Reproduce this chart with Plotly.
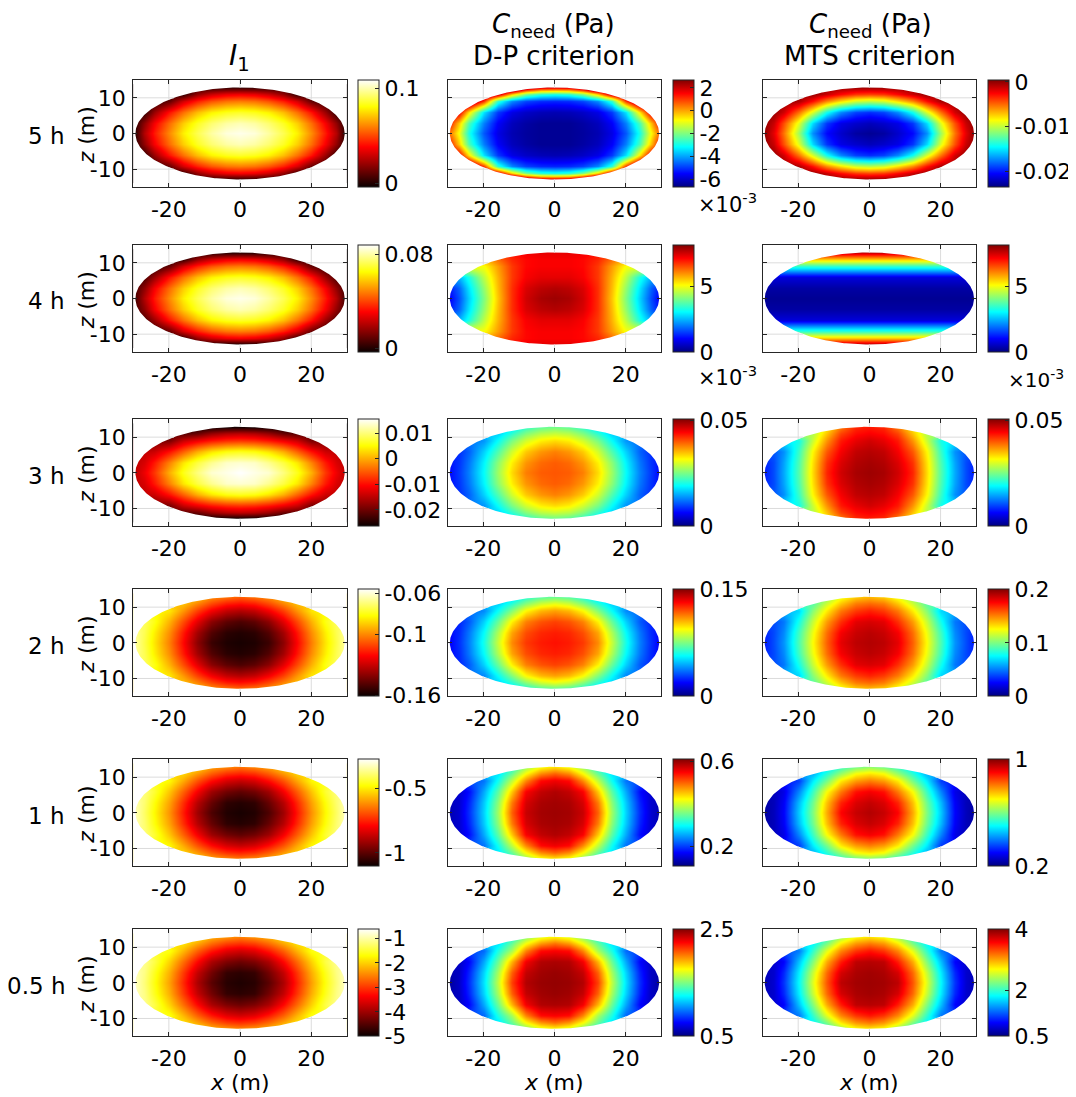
import numpy as np
import plotly.graph_objects as go

W, H = 1076, 1097      # browser window
OFF = 8                # default body margin of the html page
FW, FH = W - OFF, H - OFF
FONT = "DejaVu Sans"

# sample points on a quarter of the ellipse (x >= 0, z >= 0), in metres
x_half = [0, 4, 8, 12, 16, 20, 24, 27, 29.4]
z_half = [0, 3, 6, 9, 11, 12.9]

row_labels = ["5 h", "4 h", "3 h", "2 h", "1 h", "0.5 h"]

# I1, rows follow z_half, columns follow x_half
i1_5h = [[0.1063, 0.1046, 0.0984, 0.0894, 0.0782, 0.0613, 0.0422, 0.0253, 0.0028],
         [0.1006, 0.0984, 0.0928, 0.0843, 0.0725, 0.0562, 0.0371, 0.0191, 0.0028],
         [0.0849, 0.0832, 0.0787, 0.0697, 0.0568, 0.0411, 0.0208, 0.0028, 0.0028],
         [0.0590, 0.0574, 0.0523, 0.0433, 0.0309, 0.0118, 0.0028, 0.0028, 0.0028],
         [0.0366, 0.0349, 0.0293, 0.0197, 0.0028, 0.0028, 0.0028, 0.0028, 0.0028],
         [0.0028, 0.0028, 0.0028, 0.0028, 0.0028, 0.0028, 0.0028, 0.0028, 0.0028]]
i1_4h = [[0.0861, 0.0847, 0.0797, 0.0725, 0.0634, 0.0498, 0.0343, 0.0207, 0.0062],
         [0.0815, 0.0797, 0.0752, 0.0684, 0.0588, 0.0457, 0.0302, 0.0157, 0.0062],
         [0.0688, 0.0675, 0.0638, 0.0566, 0.0461, 0.0334, 0.0171, 0.0062, 0.0062],
         [0.0479, 0.0466, 0.0425, 0.0352, 0.0252, 0.0098, 0.0025, 0.0025, 0.0025],
         [0.0298, 0.0284, 0.0239, 0.0162, 0.0025, 0.0025, 0.0025, 0.0025, 0.0025],
         [0.0000, 0.0000, 0.0000, 0.0000, 0.0000, 0.0000, 0.0000, 0.0000, 0.0000]]
i1_3h = [[0.0154, 0.0144, 0.0135, 0.0101, 0.0060, 0.0001, -0.0074, -0.0117, -0.0147],
         [0.0135, 0.0131, 0.0108, 0.0076, 0.0035, -0.0027, -0.0093, -0.0132, -0.0147],
         [0.0060, 0.0054, 0.0034, 0.0000, -0.0048, -0.0098, -0.0140, -0.0147, -0.0147],
         [-0.0076, -0.0081, -0.0095, -0.0117, -0.0142, -0.0193, -0.0193, -0.0193, -0.0193],
         [-0.0149, -0.0155, -0.0173, -0.0203, -0.0214, -0.0214, -0.0214, -0.0214, -0.0214],
         [-0.0264, -0.0264, -0.0264, -0.0264, -0.0264, -0.0264, -0.0264, -0.0264, -0.0264]]
i1_2h = [[-0.1589, -0.1579, -0.1535, -0.1402, -0.1211, -0.1022, -0.0860, -0.0751, -0.0665],
         [-0.1573, -0.1558, -0.1495, -0.1364, -0.1182, -0.0998, -0.0845, -0.0739, -0.0676],
         [-0.1505, -0.1476, -0.1403, -0.1261, -0.1102, -0.0942, -0.0802, -0.0728, -0.0728],
         [-0.1338, -0.1310, -0.1231, -0.1119, -0.0984, -0.0858, -0.0823, -0.0823, -0.0823],
         [-0.1196, -0.1173, -0.1106, -0.1010, -0.0917, -0.0917, -0.0917, -0.0917, -0.0917],
         [-0.1064, -0.1032, -0.0990, -0.0907, -0.0917, -0.0917, -0.0917, -0.0917, -0.0917]]
i1_1h = [[-1.088, -1.076, -1.021, -0.915, -0.763, -0.613, -0.484, -0.398, -0.329],
         [-1.072, -1.059, -0.988, -0.885, -0.740, -0.594, -0.472, -0.388, -0.338],
         [-0.997, -0.973, -0.916, -0.803, -0.676, -0.550, -0.438, -0.379, -0.379],
         [-0.864, -0.841, -0.779, -0.690, -0.583, -0.483, -0.454, -0.454, -0.454],
         [-0.751, -0.733, -0.680, -0.604, -0.530, -0.530, -0.530, -0.530, -0.530],
         [-0.646, -0.621, -0.588, -0.521, -0.530, -0.530, -0.530, -0.530, -0.530]]
i1_05h = [[-4.869, -4.803, -4.471, -3.916, -3.121, -2.334, -1.661, -1.207, -0.892],
          [-4.782, -4.716, -4.301, -3.759, -2.999, -2.234, -1.596, -1.154, -0.936],
          [-4.345, -4.222, -3.921, -3.331, -2.666, -2.002, -1.417, -1.111, -1.111],
          [-3.650, -3.532, -3.204, -2.736, -2.177, -1.653, -1.504, -1.504, -1.504],
          [-3.060, -2.964, -2.684, -2.286, -1.897, -1.897, -1.897, -1.897, -1.897],
          [-2.509, -2.378, -2.203, -1.854, -1.897, -1.897, -1.897, -1.897, -1.897]]

# C_need, D-P criterion (Pa); 5 h and 4 h in units of 1e-3 Pa as on their colorbars
dp_5h = [[-6.51, -6.51, -6.42, -6.23, -5.76, -4.73, -2.94, -0.87, 0.44],
         [-6.51, -6.51, -6.37, -6.14, -5.57, -4.35, -2.47, -0.31, 1.29],
         [-6.23, -6.18, -6.04, -5.76, -5.01, -3.41, -0.59, 1.76, 1.76],
         [-5.20, -5.15, -4.91, -4.26, -2.75, 1.01, 3.17, 3.17, 3.17],
         [-2.94, -2.75, -2.00, -0.31, 2.14, 3.17, 3.17, 3.17, 3.17],
         [1.95, 2.04, 3.08, 4.77, 3.64, 3.64, 3.64, 3.64, 3.64]]
dp_4h = [[7.92, 7.83, 7.51, 6.77, 5.55, 4.08, 2.69, 1.63, 0.98],
         [7.75, 7.67, 7.43, 6.77, 5.63, 4.24, 2.86, 1.80, 1.22],
         [7.34, 7.34, 7.18, 6.69, 5.71, 4.57, 3.26, 2.45, 2.45],
         [7.18, 7.18, 7.10, 6.69, 5.88, 5.06, 5.06, 5.06, 5.06],
         [7.18, 7.18, 7.10, 6.85, 6.28, 5.71, 5.71, 5.71, 5.71],
         [7.34, 7.34, 7.26, 7.02, 6.36, 5.71, 5.71, 5.71, 5.71]]
dp_3h = [[0.0400, 0.0397, 0.0380, 0.0334, 0.0268, 0.0192, 0.0127, 0.0091, 0.0066],
         [0.0397, 0.0390, 0.0368, 0.0323, 0.0259, 0.0186, 0.0122, 0.0088, 0.0071],
         [0.0379, 0.0368, 0.0342, 0.0294, 0.0229, 0.0168, 0.0111, 0.0086, 0.0086],
         [0.0333, 0.0323, 0.0294, 0.0250, 0.0192, 0.0137, 0.0121, 0.0121, 0.0121],
         [0.0289, 0.0281, 0.0254, 0.0212, 0.0167, 0.0167, 0.0167, 0.0167, 0.0167],
         [0.0245, 0.0236, 0.0212, 0.0174, 0.0167, 0.0167, 0.0167, 0.0167, 0.0167]]
dp_2h = [[0.1290, 0.1275, 0.1230, 0.1110, 0.0858, 0.0594, 0.0375, 0.0255, 0.0180],
         [0.1272, 0.1256, 0.1199, 0.1070, 0.0818, 0.0566, 0.0362, 0.0245, 0.0195],
         [0.1218, 0.1191, 0.1122, 0.0956, 0.0714, 0.0498, 0.0318, 0.0240, 0.0240],
         [0.1074, 0.1040, 0.0942, 0.0755, 0.0569, 0.0387, 0.0353, 0.0353, 0.0353],
         [0.0905, 0.0866, 0.0761, 0.0621, 0.0495, 0.0495, 0.0495, 0.0495, 0.0495],
         [0.0714, 0.0686, 0.0609, 0.0494, 0.0495, 0.0495, 0.0495, 0.0495, 0.0495]]
dp_1h = [[0.596, 0.593, 0.575, 0.501, 0.375, 0.276, 0.192, 0.148, 0.133],
         [0.594, 0.590, 0.568, 0.487, 0.365, 0.271, 0.187, 0.147, 0.138],
         [0.587, 0.578, 0.550, 0.449, 0.341, 0.255, 0.175, 0.148, 0.148],
         [0.555, 0.544, 0.480, 0.390, 0.302, 0.227, 0.209, 0.209, 0.209],
         [0.500, 0.480, 0.423, 0.347, 0.284, 0.284, 0.284, 0.284, 0.284],
         [0.434, 0.417, 0.369, 0.311, 0.284, 0.284, 0.284, 0.284, 0.284]]
dp_05h = [[2.460, 2.450, 2.400, 2.126, 1.626, 1.200, 0.834, 0.640, 0.560],
          [2.452, 2.434, 2.364, 2.062, 1.574, 1.170, 0.812, 0.632, 0.600],
          [2.414, 2.400, 2.270, 1.894, 1.456, 1.082, 0.752, 0.640, 0.640],
          [2.254, 2.228, 1.986, 1.574, 1.300, 0.952, 0.880, 0.880, 0.880],
          [2.034, 1.956, 1.746, 1.450, 1.200, 1.200, 1.200, 1.200, 1.200],
          [1.758, 1.694, 1.508, 1.284, 1.200, 1.200, 1.200, 1.200, 1.200]]

# C_need, MTS criterion (Pa); 4 h in units of 1e-3 Pa
mts_5h = [[-0.0229, -0.0226, -0.0216, -0.0203, -0.0171, -0.0108, -0.0053, -0.0020, -0.0001],
          [-0.0220, -0.0216, -0.0210, -0.0192, -0.0153, -0.0092, -0.0044, -0.0013, -0.0001],
          [-0.0194, -0.0189, -0.0172, -0.0141, -0.0094, -0.0052, -0.0015, -0.0001, -0.0001],
          [-0.0101, -0.0096, -0.0079, -0.0058, -0.0029, -0.0006, -0.0001, -0.0001, -0.0001],
          [-0.0041, -0.0038, -0.0027, -0.0013, -0.0001, -0.0001, -0.0001, -0.0001, -0.0001],
          [-0.0001, -0.0001, -0.0001, -0.0001, -0.0001, -0.0001, -0.0001, -0.0001, -0.0001]]
mts_4h = [[0.16, 0.16, 0.16, 0.16, 0.16, 0.16, 0.16, 0.16, 0.16],
          [0.29, 0.29, 0.29, 0.29, 0.29, 0.29, 0.29, 0.29, 0.29],
          [0.74, 0.74, 0.74, 0.74, 0.74, 0.74, 0.74, 0.74, 0.74],
          [3.44, 3.44, 3.44, 3.44, 3.44, 3.44, 3.44, 3.44, 3.44],
          [5.58, 5.58, 5.58, 5.58, 5.58, 5.58, 5.58, 5.58, 5.58],
          [7.79, 7.79, 7.79, 7.79, 7.79, 7.79, 7.79, 7.79, 7.79]]
mts_3h = [[0.0491, 0.0486, 0.0466, 0.0425, 0.0334, 0.0232, 0.0148, 0.0101, 0.0076],
          [0.0487, 0.0481, 0.0460, 0.0418, 0.0330, 0.0228, 0.0145, 0.0100, 0.0081],
          [0.0479, 0.0473, 0.0447, 0.0399, 0.0319, 0.0218, 0.0135, 0.0106, 0.0106],
          [0.0465, 0.0454, 0.0431, 0.0369, 0.0290, 0.0199, 0.0177, 0.0177, 0.0177],
          [0.0445, 0.0437, 0.0410, 0.0345, 0.0278, 0.0278, 0.0278, 0.0278, 0.0278],
          [0.0430, 0.0423, 0.0380, 0.0322, 0.0278, 0.0278, 0.0278, 0.0278, 0.0278]]
mts_2h = [[0.1900, 0.1880, 0.1800, 0.1562, 0.1250, 0.0900, 0.0542, 0.0400, 0.0300],
          [0.1884, 0.1856, 0.1766, 0.1534, 0.1220, 0.0874, 0.0520, 0.0392, 0.0320],
          [0.1826, 0.1802, 0.1660, 0.1442, 0.1140, 0.0788, 0.0484, 0.0400, 0.0400],
          [0.1684, 0.1634, 0.1510, 0.1282, 0.1014, 0.0672, 0.0600, 0.0600, 0.0600],
          [0.1544, 0.1506, 0.1360, 0.1152, 0.0920, 0.0920, 0.0920, 0.0920, 0.0920],
          [0.1382, 0.1338, 0.1210, 0.1020, 0.0920, 0.0920, 0.0920, 0.0920, 0.0920]]
mts_1h = [[0.960, 0.944, 0.900, 0.766, 0.600, 0.460, 0.300, 0.248, 0.224],
          [0.946, 0.928, 0.873, 0.748, 0.586, 0.447, 0.295, 0.246, 0.232],
          [0.907, 0.888, 0.805, 0.697, 0.545, 0.405, 0.281, 0.248, 0.248],
          [0.799, 0.775, 0.713, 0.590, 0.485, 0.345, 0.312, 0.312, 0.312],
          [0.718, 0.697, 0.618, 0.531, 0.440, 0.440, 0.440, 0.440, 0.440],
          [0.610, 0.587, 0.541, 0.474, 0.440, 0.440, 0.440, 0.440, 0.440]]
mts_05h = [[3.895, 3.878, 3.790, 3.272, 2.579, 1.813, 1.113, 0.780, 0.675],
           [3.881, 3.850, 3.703, 3.199, 2.495, 1.760, 1.067, 0.770, 0.710],
           [3.811, 3.783, 3.468, 2.971, 2.257, 1.603, 0.938, 0.780, 0.780],
           [3.489, 3.377, 3.094, 2.586, 1.977, 1.351, 1.200, 1.200, 1.200],
           [3.150, 3.048, 2.754, 2.236, 1.795, 1.795, 1.795, 1.795, 1.795],
           [2.765, 2.674, 2.352, 1.956, 1.795, 1.795, 1.795, 1.795, 1.795]]

# colour limits of every colorbar
i1_lims = [(-0.0039, 0.1085), (-0.0029, 0.0879), (-0.0264, 0.01535),
           (-0.161, -0.0561), (-1.105, -0.271), (-5.0, -0.63)]
dp_lims = [(-6.7, 2.7), (0, 8.16), (0, 0.0506),
           (0, 0.15), (0.108, 0.611), (0.5, 2.5)]
mts_lims = [(-0.0234, 0.0004), (0, 8.2), (0, 0.0506),
            (0, 0.2), (0.2, 1.0), (0.5, 4.0)]

# colorbar ticks
i1_ticks = [[0, 0.1], [0, 0.08], [-0.02, -0.01, 0, 0.01],
            [-0.16, -0.1, -0.06], [-1, -0.5], [-5, -4, -3, -2, -1]]
dp_ticks = [[-6, -4, -2, 0, 2], [0, 5], [0, 0.05],
            [0, 0.15], [0.2, 0.6], [0.5, 2.5]]
mts_ticks = [[-0.02, -0.01, 0], [0, 5], [0, 0.05],
             [0, 0.1, 0.2], [0.2, 1], [0.5, 2, 4]]

i1_data = [i1_5h, i1_4h, i1_3h, i1_2h, i1_1h, i1_05h]
dp_data = [dp_5h, dp_4h, dp_3h, dp_2h, dp_1h, dp_05h]
mts_data = [mts_5h, mts_4h, mts_3h, mts_2h, mts_1h, mts_05h]

hot = [[0, "rgb(11,0,0)"], [0.375, "rgb(255,0,0)"],
       [0.75, "rgb(255,255,0)"], [1, "rgb(255,255,255)"]]
jet = [[0, "rgb(0,0,128)"], [0.125, "rgb(0,0,255)"], [0.375, "rgb(0,255,255)"],
       [0.625, "rgb(255,255,0)"], [0.875, "rgb(255,0,0)"], [1, "rgb(128,0,0)"]]

# page layout in window pixels
col_left = [133.5, 448.5, 764]
cb_left = [359, 674.5, 989.5]
row_top = [80, 245, 419.3, 589.3, 759.3, 929.3]
AX_W, AX_H = 214, 107
A, B = 29.4, 12.9   # ellipse semi axes
AX_COL = "#262626"


def mirror(q):
    q = np.array(q, dtype=float)
    q = np.hstack([q[:, :0:-1], q])
    return np.vstack([q[:0:-1], q])


def fmt(v):
    return f"{v:g}"


x_full = [-v for v in x_half[:0:-1]] + x_half
z_full = [-v for v in z_half[:0:-1]] + z_half

# white mask outside the ellipse
th = np.linspace(0, 2 * np.pi, 361)
mask_x = [31, 31, -31, -31, 31, 31] + list(A * np.cos(th)) + [31]
mask_y = [0, -16, -16, 16, 16, 0] + list(B * np.sin(th)) + [0]

# grid lines only where they are not hidden by the field
grid_x, grid_y = [], []
for g in [-20, 0, 20]:
    h = B * np.sqrt(max(0, 1 - (g / A) ** 2))
    grid_x += [g, g, None, g, g, None]
    grid_y += [h, 15, None, -15, -h, None]
for g in [-10, 0, 10]:
    w = A * np.sqrt(max(0, 1 - (g / B) ** 2))
    grid_x += [w, 30, None, -30, -w, None]
    grid_y += [g, g, None, g, g, None]


def px(x):
    return (x - OFF) / FW


def py(y):
    return 1 - (y - OFF) / FH


def ann(text, x, y, size, xanchor="center", yanchor="middle", angle=0):
    return dict(text=text, x=px(x), y=py(y), xref="paper", yref="paper",
                showarrow=False, font=dict(size=size, family=FONT, color="black"),
                xanchor=xanchor, yanchor=yanchor, textangle=angle)


fig = go.Figure()
layout = {}
annotations = []

cols = [(i1_data, i1_lims, i1_ticks, hot),
        (dp_data, dp_lims, dp_ticks, jet),
        (mts_data, mts_lims, mts_ticks, jet)]

for r in range(6):
    for c in range(3):
        data, lims, ticks, cscale = cols[c]
        k = r * 3 + c + 1
        xa = "x" if k == 1 else f"x{k}"
        ya = "y" if k == 1 else f"y{k}"
        top = row_top[r]
        fig.add_trace(go.Heatmap(
            x=x_full, y=z_full, z=mirror(data[r]),
            zmin=lims[r][0], zmax=lims[r][1], colorscale=cscale, zsmooth="best",
            xaxis=xa, yaxis=ya, hoverinfo="skip",
            colorbar=dict(x=px(cb_left[c]), xanchor="left", xref="paper",
                          y=py(top + AX_H / 2), yanchor="middle", yref="paper",
                          len=AX_H, lenmode="pixels", thickness=21,
                          xpad=0, ypad=0, outlinewidth=1, outlinecolor=AX_COL,
                          ticks="inside", ticklen=4, tickcolor=AX_COL,
                          tickvals=ticks[r], ticktext=[fmt(t) for t in ticks[r]],
                          tickfont=dict(size=22, family=FONT, color="black"))))
        fig.add_trace(go.Scatter(
            x=mask_x, y=mask_y, mode="lines", fill="toself", fillcolor="white",
            line=dict(width=0, color="white"), hoverinfo="skip",
            xaxis=xa, yaxis=ya))
        fig.add_trace(go.Scatter(
            x=grid_x, y=grid_y, mode="lines", line=dict(width=1, color="#dcdcdc"),
            hoverinfo="skip", xaxis=xa, yaxis=ya))

        common = dict(showline=True, mirror="ticks", linecolor=AX_COL, linewidth=1.3,
                      ticks="inside", ticklen=4, tickcolor=AX_COL, tickwidth=1,
                      showgrid=False, zeroline=False,
                      tickfont=dict(size=22, family=FONT, color="black"))
        layout["xaxis" if k == 1 else f"xaxis{k}"] = dict(
            domain=[px(col_left[c]), px(col_left[c] + AX_W)], anchor=ya,
            range=[-30, 30], tickvals=[-20, 0, 20], ticktext=["-20", "0", "20"],
            ticklabelstandoff=2, **common)
        layout["yaxis" if k == 1 else f"yaxis{k}"] = dict(
            domain=[py(top + AX_H), py(top)], anchor=xa,
            range=[-15, 15], tickvals=[-10, 0, 10], ticktext=["-10", "0", "10"],
            showticklabels=(c == 0), ticklabelstandoff=2, **common)

    mid = row_top[r] + AX_H / 2
    annotations.append(ann(row_labels[r], 67, mid + 3, 23, xanchor="right"))
    annotations.append(ann("<i>z</i> (m)", 87, mid + 2, 22, angle=-90))

# column titles
annotations.append(ann("<i>I</i><sub>1</sub>", 240, 58, 28))
annotations.append(ann("<i>C</i><sub>need</sub> (Pa)", 555, 25, 26))
annotations.append(ann("D-P criterion", 555, 56, 26))
annotations.append(ann("<i>C</i><sub>need</sub> (Pa)", 872, 25, 26))
annotations.append(ann("MTS criterion", 872, 56, 26))

# x axis titles under the last row
for c in range(3):
    annotations.append(ann("<i>x</i> (m)", col_left[c] + AX_W / 2, 1082, 22))

# colorbar exponents
annotations.append(ann("×10<sup>-3</sup>", 697, 203, 21, xanchor="left"))
annotations.append(ann("×10<sup>-3</sup>", 697, 376, 21, xanchor="left"))
annotations.append(ann("×10<sup>-3</sup>", 1068, 379, 20, xanchor="right"))

fig.update_layout(
    width=FW, height=FH, margin=dict(l=0, r=0, t=0, b=0),
    paper_bgcolor="white", plot_bgcolor="white", showlegend=False,
    font=dict(family=FONT, color="black"),
    annotations=annotations, **layout)

fig.write_html("out.html")
